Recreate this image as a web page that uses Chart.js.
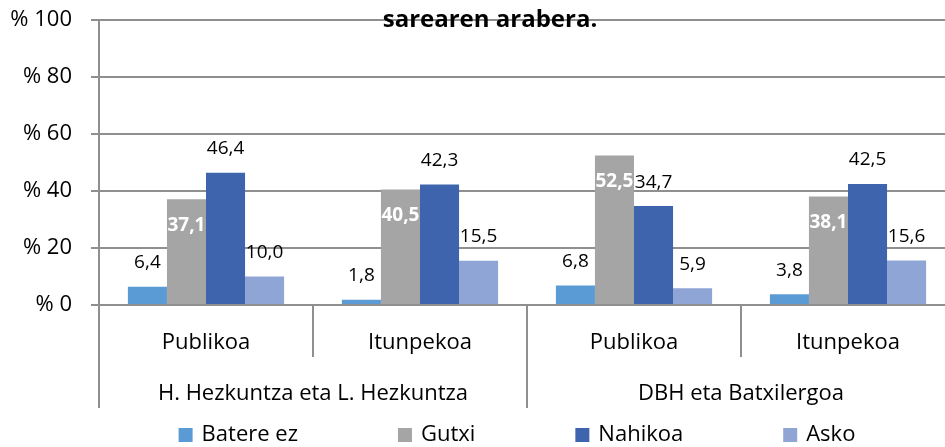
<!DOCTYPE html>
<html lang="eu">
<head>
<meta charset="UTF-8" />
<title>Gogobetetze maila sarearen arabera</title>
<script src="https://cdn.jsdelivr.net/npm/chart.js"></script>
<style>
  html, body { margin: 0; padding: 0; background: #fff; overflow: hidden; }
  #chart { display: block; }
</style>
</head>
<body>
<canvas id="chart" width="960" height="447"></canvas>
<script>
  // categories: school network inside each education level
  const subCategories = ["Publikoa", "Itunpekoa", "Publikoa", "Itunpekoa"];
  const levels = ["H. Hezkuntza eta L. Hezkuntza", "DBH eta Batxilergoa"];
  const seriesNames = ["Batere ez", "Gutxi", "Nahikoa", "Asko"];

  // percentages per series
  const batereEz = [6.4, 1.8, 6.8, 3.8];
  const gutxi = [37.1, 40.5, 52.5, 38.1];
  const nahikoa = [46.4, 42.3, 34.7, 42.5];
  const asko = [10.0, 15.5, 5.9, 15.6];

  const yTicks = [0, 20, 40, 60, 80, 100];
  const titleText = "sarearen arabera.";

  const FONT = "'Open Sans', 'DejaVu Sans', sans-serif";
  const GRID = "#8f8f8f";

  // numbers over / inside the bars, decimal comma
  const valueLabels = {
    id: "valueLabels",
    afterDatasetsDraw(chart) {
      const ctx = chart.ctx;
      ctx.save();
      ctx.textAlign = "center";
      ctx.textBaseline = "middle";
      chart.data.datasets.forEach((ds, i) => {
        const meta = chart.getDatasetMeta(i);
        const inside = i === 1;
        ctx.font = (inside ? "bold " : "") + "19px " + FONT;
        ctx.fillStyle = inside ? "#ffffff" : "#000000";
        meta.data.forEach((bar, j) => {
          const txt = ds.data[j].toFixed(1).replace(".", ",");
          ctx.fillText(txt, bar.x, inside ? bar.y + 26 : bar.y - 24);
        });
      });
      ctx.restore();
    }
  };

  const heading = {
    id: "heading",
    afterDraw(chart) {
      const ctx = chart.ctx;
      ctx.save();
      ctx.font = "bold 24px " + FONT;
      ctx.fillStyle = "#000";
      ctx.textAlign = "center";
      ctx.textBaseline = "alphabetic";
      ctx.fillText(titleText, 490, 27);
      ctx.restore();
    }
  };

  // wide-spaced legend row under the axes
  const bottomLegend = {
    id: "bottomLegend",
    afterDraw(chart) {
      const ctx = chart.ctx;
      const area = chart.chartArea;
      const box = 14, gap = 9, spacing = 100;
      ctx.save();
      ctx.font = "22px " + FONT;
      ctx.textBaseline = "middle";
      ctx.textAlign = "left";
      const items = chart.data.datasets.map(ds => ({
        text: ds.label,
        color: ds.backgroundColor,
        w: box + gap + ctx.measureText(ds.label).width
      }));
      const total = items.reduce((s, it) => s + it.w, 0) + spacing * (items.length - 1);
      let x = (area.left + area.right) / 2 - 10 - total / 2;
      const y = chart.height - 12;
      items.forEach(it => {
        ctx.fillStyle = it.color;
        ctx.fillRect(x, y - box / 2, box, box);
        ctx.fillStyle = "#000";
        ctx.fillText(it.text, x + box + gap, y);
        x += it.w + spacing;
      });
      ctx.restore();
    }
  };

  new Chart(document.getElementById("chart"), {
    type: "bar",
    data: {
      labels: subCategories,
      datasets: [
        { label: seriesNames[0], data: batereEz, backgroundColor: "#5b9bd5" },
        { label: seriesNames[1], data: gutxi, backgroundColor: "#a5a5a5" },
        { label: seriesNames[2], data: nahikoa, backgroundColor: "#3e64ae" },
        { label: seriesNames[3], data: asko, backgroundColor: "#8fa5d6" }
      ]
    },
    options: {
      responsive: false,
      animation: false,
      layout: { padding: { top: 20, right: 5, bottom: 39, left: 0 } },
      datasets: { bar: { barPercentage: 1, categoryPercentage: 0.73 } },
      plugins: {
        legend: { display: false },
        tooltip: { enabled: false }
      },
      scales: {
        y: {
          min: 0,
          max: 100,
          afterBuildTicks: s => { s.ticks = yTicks.map(v => ({ value: v })); },
          afterFit: s => {
            s.width = 99;
            // the top label may stick out above the plot, no extra room needed
            s.paddingTop = 0;
            s.paddingBottom = 0;
          },
          ticks: {
            callback: v => "% " + v,
            color: "#000",
            padding: 19,
            font: { family: FONT, size: 22 }
          },
          grid: { color: GRID, lineWidth: 2, tickLength: 8 },
          border: { color: GRID, width: 2 }
        },
        x: {
          weight: 0,
          afterFit: s => { s.height = 52; },
          ticks: {
            color: "#000",
            padding: -27,
            maxRotation: 0,
            autoSkip: false,
            font: { family: FONT, size: 22 }
          },
          grid: { drawOnChartArea: false, offset: true, tickLength: 52, color: GRID, lineWidth: 2 },
          border: { color: GRID, width: 2 }
        },
        x2: {
          type: "category",
          labels: levels,
          position: "bottom",
          offset: true,
          weight: 1,
          afterFit: s => { s.height = 51; },
          ticks: {
            color: "#000",
            padding: -27,
            maxRotation: 0,
            autoSkip: false,
            font: { family: FONT, size: 22 }
          },
          grid: { drawOnChartArea: false, offset: true, tickLength: 51, color: GRID, lineWidth: 2 },
          border: { display: false }
        }
      }
    },
    plugins: [valueLabels, heading, bottomLegend]
  });
</script>
</body>
</html>
